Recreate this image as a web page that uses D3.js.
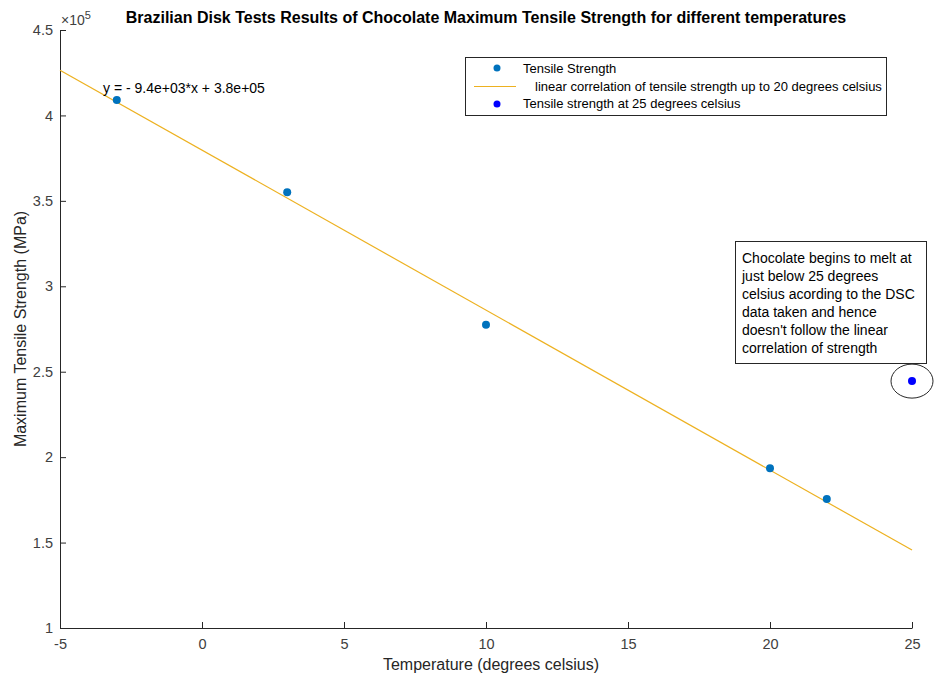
<!DOCTYPE html>
<html>
<head>
<meta charset="utf-8">
<script src="https://cdn.jsdelivr.net/npm/d3@7"></script>
<style>
  body { margin: 0; background: #fff; font-family: "Liberation Sans", Arial, sans-serif; }
  .tick text { fill: #404040; font-size: 14.5px; font-family: "Liberation Sans", Arial, sans-serif; }
  .domain, .tick line { stroke: #262626; }
</style>
</head>
<body>
<div id="chart"></div>
<script>
// tensile strength measurements (Pa)
const temps = [-3, 3, 10, 20, 22];
const strength = [409000, 355000, 277500, 193500, 175500];
// outlier at 25 degrees
const meltTemp = [25];
const meltStrength = [244500];
// linear fit endpoints
const fitX = [-5, 25];
const fitY = [426500, 145600];

const xTicks = [-5, 0, 5, 10, 15, 20, 25];
const yTicks = [1, 1.5, 2, 2.5, 3, 3.5, 4, 4.5];

const width = 934;
const height = 680;
const margin = { top: 30, right: 22, bottom: 52, left: 60 };

const svg = d3.select("#chart").append("svg")
  .attr("width", width)
  .attr("height", height);

const xScale = d3.scaleLinear().domain([-5, 25]).range([margin.left, width - margin.right]);
const yScale = d3.scaleLinear().domain([100000, 450000]).range([height - margin.bottom, margin.top]);

// axes, ticks pointing inward
svg.append("g")
  .attr("transform", `translate(0, ${height - margin.bottom})`)
  .call(d3.axisBottom(xScale).tickValues(xTicks).tickFormat(d => String(d))
    .tickSizeInner(-6).tickSizeOuter(0).tickPadding(11));

svg.append("g")
  .attr("transform", `translate(${margin.left}, 0)`)
  .call(d3.axisLeft(yScale).tickValues(yTicks.map(d => d * 1e5))
    .tickFormat(d => String(d / 1e5)).tickSizeInner(-6).tickSizeOuter(0).tickPadding(7));

svg.append("text")
  .attr("x", margin.left + 1)
  .attr("y", 25)
  .attr("fill", "#404040")
  .attr("font-size", 14)
  .html('×10<tspan dy="-6" font-size="11">5</tspan>');

// fit line
const line = d3.line().x((d, i) => xScale(fitX[i])).y(d => yScale(d));
svg.append("path")
  .datum(fitY)
  .attr("d", line)
  .attr("fill", "none")
  .attr("stroke", "#EDB120")
  .attr("stroke-width", 1.2);

svg.selectAll(".pt")
  .data(temps)
  .enter()
  .append("circle")
  .attr("cx", d => xScale(d))
  .attr("cy", (d, i) => yScale(strength[i]))
  .attr("r", 4)
  .attr("fill", "#0072BD");

svg.selectAll(".melt")
  .data(meltTemp)
  .enter()
  .append("circle")
  .attr("cx", d => xScale(d))
  .attr("cy", (d, i) => yScale(meltStrength[i]))
  .attr("r", 4)
  .attr("fill", "#0000FF");

// ellipse round the outlier
svg.append("ellipse")
  .attr("cx", xScale(meltTemp[0]))
  .attr("cy", yScale(meltStrength[0]))
  .attr("rx", 21)
  .attr("ry", 17)
  .attr("fill", "none")
  .attr("stroke", "#262626");

// equation
svg.append("text")
  .attr("x", 103)
  .attr("y", 93)
  .attr("font-size", 14)
  .attr("fill", "#000")
  .text("y = - 9.4e+03*x + 3.8e+05");

// annotation box
svg.append("rect")
  .attr("x", 735.5).attr("y", 241.5)
  .attr("width", 191).attr("height", 122)
  .attr("fill", "#fff").attr("stroke", "#262626");

const note = [
  "Chocolate begins to melt at",
  "just below 25 degrees",
  "celsius acording to the DSC",
  "data taken and hence",
  "doesn't follow the linear",
  "correlation of strength"
];
svg.append("g").selectAll("text")
  .data(note)
  .enter()
  .append("text")
  .attr("x", 742)
  .attr("y", (d, i) => 263 + i * 18)
  .attr("font-size", 14)
  .text(d => d);

// legend
const legend = svg.append("g");
legend.append("rect")
  .attr("x", 465.5).attr("y", 57.5)
  .attr("width", 421).attr("height", 58)
  .attr("fill", "#fff").attr("stroke", "#262626");
legend.append("circle").attr("cx", 497).attr("cy", 68).attr("r", 3.5).attr("fill", "#0072BD");
legend.append("line").attr("x1", 474).attr("x2", 516).attr("y1", 86.5).attr("y2", 86.5)
  .attr("stroke", "#EDB120").attr("stroke-width", 1.2);
legend.append("circle").attr("cx", 497).attr("cy", 104).attr("r", 3.5).attr("fill", "#0000FF");
const legendLabels = [
  "Tensile Strength",
  "linear correlation of tensile strength up to 20 degrees celsius",
  "Tensile strength at 25 degrees celsius"
];
const legendX = [523, 535, 523];
legend.selectAll(".lg")
  .data(legendLabels)
  .enter()
  .append("text")
  .attr("x", (d, i) => legendX[i])
  .attr("y", (d, i) => 73 + i * 17.5)
  .attr("font-size", 13)
  .text(d => d);

// title & axis labels
svg.append("text")
  .attr("x", 486)
  .attr("y", 23)
  .attr("text-anchor", "middle")
  .attr("font-size", 16)
  .attr("font-weight", "bold")
  .text("Brazilian Disk Tests Results of Chocolate Maximum Tensile Strength for different temperatures");

svg.append("text")
  .attr("x", 491)
  .attr("y", 670)
  .attr("text-anchor", "middle")
  .attr("font-size", 16)
  .attr("fill", "#262626")
  .text("Temperature (degrees celsius)");

svg.append("text")
  .attr("x", -329)
  .attr("y", 26)
  .attr("transform", "rotate(-90)")
  .attr("text-anchor", "middle")
  .attr("font-size", 16)
  .attr("fill", "#262626")
  .text("Maximum Tensile Strength (MPa)");
</script>
</body>
</html>
